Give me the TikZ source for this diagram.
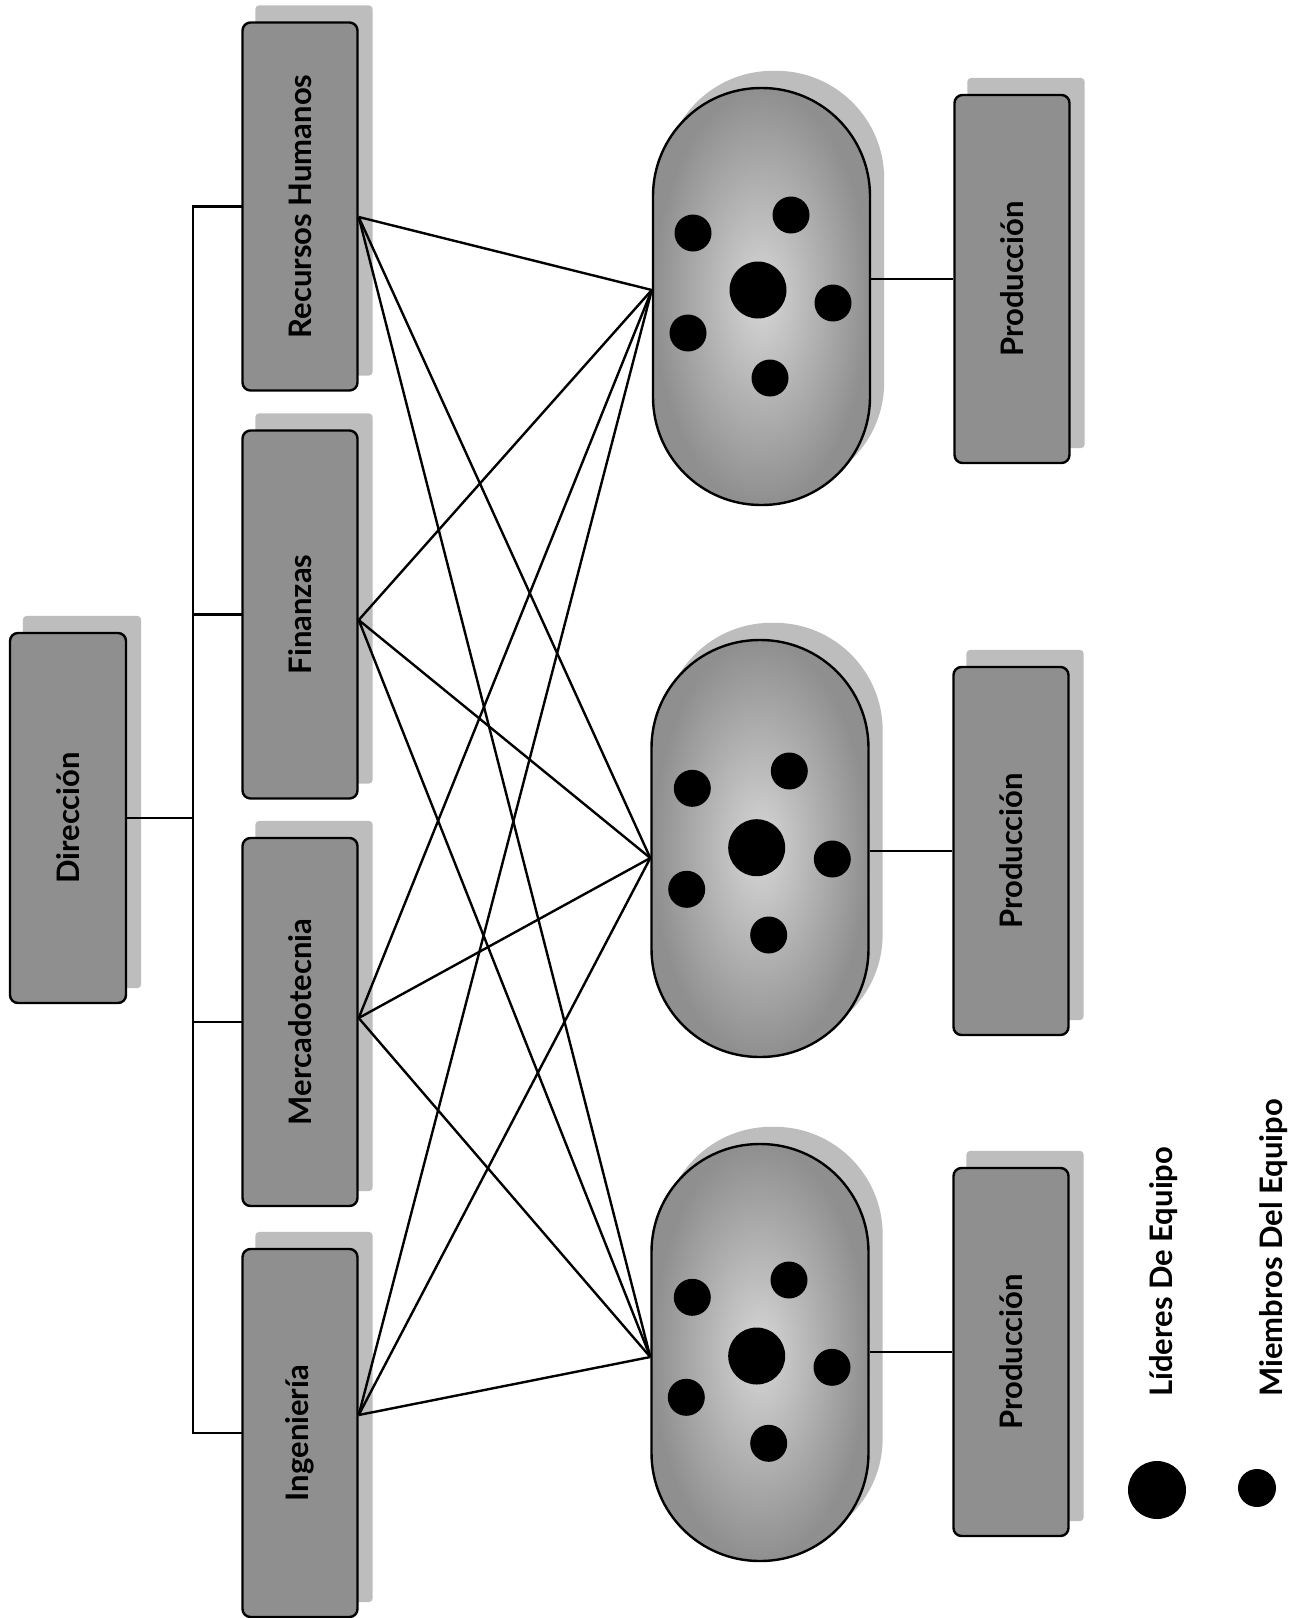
\documentclass[tikz,border=0pt]{standalone}
\usepackage{fontspec}
\setmainfont{Lato}
\usepackage{graphicx}
\usetikzlibrary{backgrounds}
\definecolor{boxgray}{gray}{0.56}
\definecolor{shadowgray}{gray}{0.74}
\definecolor{ovalout}{gray}{0.56}
\definecolor{ovalin}{gray}{0.84}
\begin{document}
\begin{tikzpicture}[x=1pt,y=-1pt,
  txt/.style={font=\fontsize{31}{36}\selectfont\bfseries},
  box/.style={txt, draw=black, line width=2.4pt, fill=boxgray, rounded corners=8pt,
    minimum width=115pt, minimum height=368pt, inner sep=0pt},
  team/.style={draw=black, line width=2.4pt, rounded corners=108pt,
    minimum width=217pt, minimum height=417pt, inner sep=0pt,
    inner color=ovalin, outer color=ovalout},
  link/.style={line width=2.4pt},
  buslink/.style={line width=2.4pt, line cap=rect},
]
\useasboundingbox (0,0) rectangle (1302,1618);

% left column
\node[box, minimum width=116pt, minimum height=370pt] (dir) at (68,818) {\rotatebox{90}{Dirección}};
\node[box] (rh)  at (300,206.5) {\rotatebox{90}{Recursos Humanos}};
\node[box] (fin) at (300,614.5) {\rotatebox{90}{Finanzas}};
\node[box] (mer) at (300,1022)  {\rotatebox{90}{Mercadotecnia}};
\node[box] (ing) at (300,1433)  {\rotatebox{90}{Ingeniería}};

% teams
\node[team] (o1) at (761.5,296.5) {};
\node[team] (o2) at (760,848.5) {};
\node[team] (o3) at (760,1352.5) {};

% production
\node[box] (p1) at (1012,279)  {\rotatebox{90}{Producción}};
\node[box] (p2) at (1011,851)  {\rotatebox{90}{Producción}};
\node[box] (p3) at (1011,1352) {\rotatebox{90}{Producción}};

% dots
\foreach \x/\y in {693/233,791/215,833/303,688/333,770/378,
                   692.3/788.3,789.3/771,832.3/859,686.7/889.3,768.7/935,
                   692.3/1297.3,789/1280,832/1367.3,686.3/1397.3,768.7/1443.3}
  \fill (\x,\y) circle[radius=18.5pt];
\foreach \x/\y in {758/290,756.7/847.7,756.7/1356}
  \fill (\x,\y) circle[radius=28.5pt];

% legend
\fill (1157,1490) circle[radius=29pt];
\fill (1257,1488) circle[radius=19pt];
\node[txt, anchor=base west, rotate=90, inner sep=0pt] (ldr) at (1172,1397) {Líderes De Equipo};
\node[txt, anchor=base west, rotate=90, inner sep=0pt] (mbr) at (1282,1397) {Miembros Del Equipo};

% bus
\coordinate (bus) at (193,818);
\draw[buslink] (rh.west -| bus) -- (ing.west -| bus);
\foreach \n in {rh,fin,mer,ing}
  \draw[buslink] (\n.west -| bus) -- (\n.west);
\draw[buslink] (dir.east) -- (dir.east -| bus);

% cross links
\coordinate (rhR)  at ([yshift=-10.5pt]rh.east);
\coordinate (finR) at ([yshift=-5.5pt]fin.east);
\coordinate (merR) at ([yshift=4pt]mer.east);
\coordinate (ingR) at ([yshift=18pt]ing.east);
\coordinate (o1L) at ([yshift=6.5pt]o1.west);
\coordinate (o2L) at ([yshift=-9.5pt]o2.west);
\coordinate (o3L) at ([yshift=-4.5pt]o3.west);
\foreach \a in {rhR,finR,merR,ingR}
  \foreach \b in {o1L,o2L,o3L}
    \draw[link] (\a) -- (\b);

% team to production
\draw[link] (o1.east |- p1.west) -- (p1.west);
\draw[link] (o2.east |- p2.west) -- (p2.west);
\draw[link] (o3.east |- p3.west) -- (p3.west);

% shadows and background
\begin{scope}[on background layer]
  \fill[white] (0,0) rectangle (1302,1618);
  \foreach \n in {dir,rh,fin,mer,ing,p1,p2,p3}
    \fill[shadowgray, rounded corners=4pt] ([xshift=14pt,yshift=16pt]\n.south west) rectangle ([xshift=14pt,yshift=16pt]\n.north east);
  \foreach \n in {o1,o2,o3}
    \fill[shadowgray, rounded corners=108pt] ([xshift=13pt,yshift=16pt]\n.south west) rectangle ([xshift=13pt,yshift=16pt]\n.north east);
\end{scope}
\end{tikzpicture}
\end{document}
